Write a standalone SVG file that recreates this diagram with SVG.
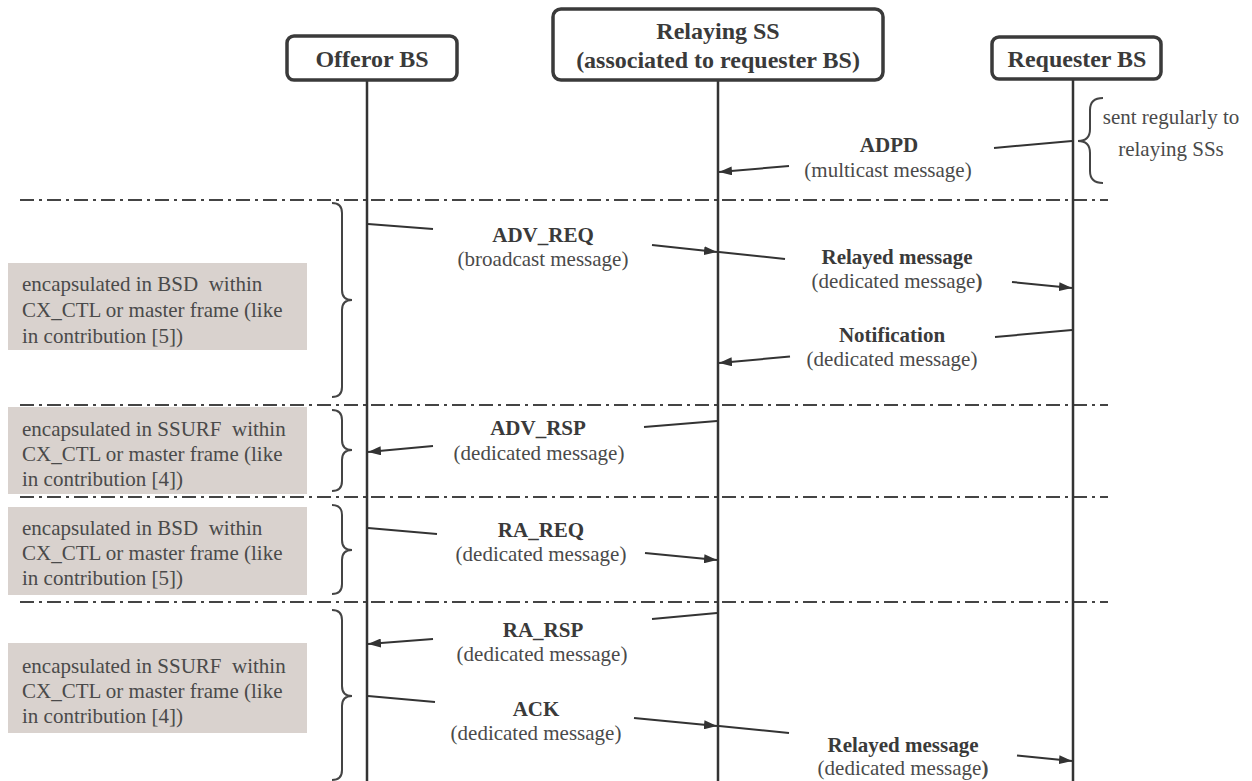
<svg xmlns="http://www.w3.org/2000/svg" width="1252" height="781" viewBox="0 0 1252 781">
<style>
  .hdr { fill:#fff; stroke:#3a3a3a; stroke-width:3.5; }
  .ht { font-family:"Liberation Serif", "Times New Roman", serif; font-weight:bold; font-size:24px; fill:#3a3a3a; text-anchor:middle; }
  .life { stroke:#333; stroke-width:2.5; fill:none; }
  .sep { stroke:#444; stroke-width:2; stroke-dasharray:14 5 3 5; fill:none; }
  .msg { stroke:#333; stroke-width:2; fill:none; }
  .brace { stroke:#444; stroke-width:2; fill:none; }
  .lb { font-family:"Liberation Serif", "Times New Roman", serif; font-weight:bold; font-size:21px; fill:#3a3a3a; text-anchor:middle; }
  .lr { font-family:"Liberation Serif", "Times New Roman", serif; font-size:21px; fill:#4a4a4a; text-anchor:middle; }
  .note { fill:#d9d2ce; }
  .nt { font-family:"Liberation Serif", "Times New Roman", serif; font-size:21px; fill:#4a4a4a; }
</style>
<defs>
  <marker id="ah" viewBox="0 0 13 9" refX="13" refY="4.5" markerWidth="13" markerHeight="9" markerUnits="userSpaceOnUse" orient="auto">
    <path d="M0,0 L13,4.5 L0,9 Z" fill="#333"/>
  </marker>
</defs>
<rect width="1252" height="781" fill="#fff"/>

<g id="separators">
  <line class="sep" x1="20" y1="200" x2="1108" y2="200"/>
  <line class="sep" x1="20" y1="405" x2="1108" y2="405"/>
  <line class="sep" x1="20" y1="497" x2="1108" y2="497"/>
  <line class="sep" x1="20" y1="602" x2="1108" y2="602"/>
</g>

<g id="lifelines">
  <line class="life" x1="367" y1="80" x2="367" y2="781"/>
  <line class="life" x1="718" y1="80" x2="718" y2="781"/>
  <line class="life" x1="1073" y1="79" x2="1073" y2="781"/>
</g>

<g id="offeror">
  <rect class="hdr" x="287" y="36" width="170" height="44" rx="7"/>
  <text class="ht" x="372" y="67">Offeror BS</text>
</g>
<g id="relaying">
  <rect class="hdr" x="553" y="9" width="330" height="71" rx="8"/>
  <text class="ht" x="718" y="39">Relaying SS</text>
  <text class="ht" x="718" y="68">(associated to requester BS)</text>
</g>
<g id="requester">
  <rect class="hdr" x="992" y="37" width="169" height="42" rx="7"/>
  <text class="ht" x="1077" y="67">Requester BS</text>
</g>

<g id="note-adpd">
  <path class="brace" d="M1103,98 Q1090,98 1090,110 L1090,129 Q1090,141 1078,141 Q1090,141 1090,153 L1090,171 Q1090,183 1103,183"/>
  <text class="lr" x="1171" y="124">sent regularly to</text>
  <text class="lr" x="1171" y="156">relaying SSs</text>
</g>
<g id="note1">
  <rect class="note" x="8" y="263" width="299" height="87"/>
  <text class="nt" x="22" y="291">encapsulated in BSD&#160; within</text>
  <text class="nt" x="22" y="317">CX_CTL or master frame (like</text>
  <text class="nt" x="22" y="343">in contribution [5])</text>
  <path class="brace" d="M332,203 Q342,203 342,213 L342,290 Q342,300 352,300 Q342,300 342,310 L342,387 Q342,397 332,397"/>
</g>
<g id="note2">
  <rect class="note" x="8" y="407" width="299" height="87"/>
  <text class="nt" x="22" y="436">encapsulated in SSURF&#160; within</text>
  <text class="nt" x="22" y="461">CX_CTL or master frame (like</text>
  <text class="nt" x="22" y="486">in contribution [4])</text>
  <path class="brace" d="M332,410 Q342,410 342,420 L342,440 Q342,450 352,450 Q342,450 342,460 L342,481 Q342,491 332,491"/>
</g>
<g id="note3">
  <rect class="note" x="8" y="507" width="299" height="88"/>
  <text class="nt" x="22" y="535">encapsulated in BSD&#160; within</text>
  <text class="nt" x="22" y="560">CX_CTL or master frame (like</text>
  <text class="nt" x="22" y="585">in contribution [5])</text>
  <path class="brace" d="M332,505 Q342,505 342,515 L342,540 Q342,550 352,550 Q342,550 342,560 L342,584 Q342,594 332,594"/>
</g>
<g id="note4">
  <rect class="note" x="8" y="643" width="299" height="90"/>
  <text class="nt" x="22" y="673">encapsulated in SSURF&#160; within</text>
  <text class="nt" x="22" y="698">CX_CTL or master frame (like</text>
  <text class="nt" x="22" y="723">in contribution [4])</text>
  <path class="brace" d="M332,610 Q342,610 342,620 L342,686 Q342,696 352,696 Q342,696 342,706 L342,770 Q342,780 332,780"/>
</g>

<g id="connectors">
  <line class="msg" x1="1072" y1="141" x2="994" y2="148"/>
  <line class="msg" x1="789" y1="166" x2="719" y2="172" marker-end="url(#ah)"/>
  <line class="msg" x1="368" y1="224" x2="433" y2="229"/>
  <line class="msg" x1="652" y1="245" x2="717" y2="252" marker-end="url(#ah)"/>
  <line class="msg" x1="719" y1="252" x2="785" y2="259"/>
  <line class="msg" x1="1012" y1="282" x2="1072" y2="288" marker-end="url(#ah)"/>
  <line class="msg" x1="1072" y1="330" x2="995" y2="337"/>
  <line class="msg" x1="790" y1="356.5" x2="719" y2="363" marker-end="url(#ah)"/>
  <line class="msg" x1="717" y1="421" x2="644" y2="427"/>
  <line class="msg" x1="433" y1="446" x2="368" y2="452" marker-end="url(#ah)"/>
  <line class="msg" x1="368" y1="528" x2="437" y2="534"/>
  <line class="msg" x1="645" y1="553" x2="717" y2="560" marker-end="url(#ah)"/>
  <line class="msg" x1="717" y1="613" x2="652" y2="619"/>
  <line class="msg" x1="433" y1="639" x2="368" y2="644" marker-end="url(#ah)"/>
  <line class="msg" x1="368" y1="696" x2="435" y2="702"/>
  <line class="msg" x1="634" y1="718" x2="717" y2="726" marker-end="url(#ah)"/>
  <line class="msg" x1="719" y1="726" x2="789" y2="733"/>
  <line class="msg" x1="1017" y1="755.5" x2="1072" y2="761" marker-end="url(#ah)"/>
</g>

<g id="labels">
  <text class="lb" x="889" y="152">ADPD</text>
  <text class="lr" x="888" y="177">(multicast message)</text>
  <text class="lb" x="543" y="242">ADV_REQ</text>
  <text class="lr" x="543" y="266">(broadcast message)</text>
  <text class="lb" x="897" y="264">Relayed message</text>
  <text class="lr" x="897" y="288">(dedicated message<tspan font-weight="bold">)</tspan></text>
  <text class="lb" x="892" y="342">Notification</text>
  <text class="lr" x="892" y="366">(dedicated message)</text>
  <text class="lb" x="538" y="435">ADV_RSP</text>
  <text class="lr" x="539" y="460">(dedicated message)</text>
  <text class="lb" x="541" y="537">RA_REQ</text>
  <text class="lr" x="541" y="561">(dedicated message)</text>
  <text class="lb" x="543" y="637">RA_RSP</text>
  <text class="lr" x="542" y="661">(dedicated message)</text>
  <text class="lb" x="536" y="716">ACK</text>
  <text class="lr" x="536" y="740">(dedicated message)</text>
  <text class="lb" x="903" y="752">Relayed message</text>
  <text class="lr" x="903" y="775">(dedicated message<tspan font-weight="bold">)</tspan></text>
</g>
</svg>
